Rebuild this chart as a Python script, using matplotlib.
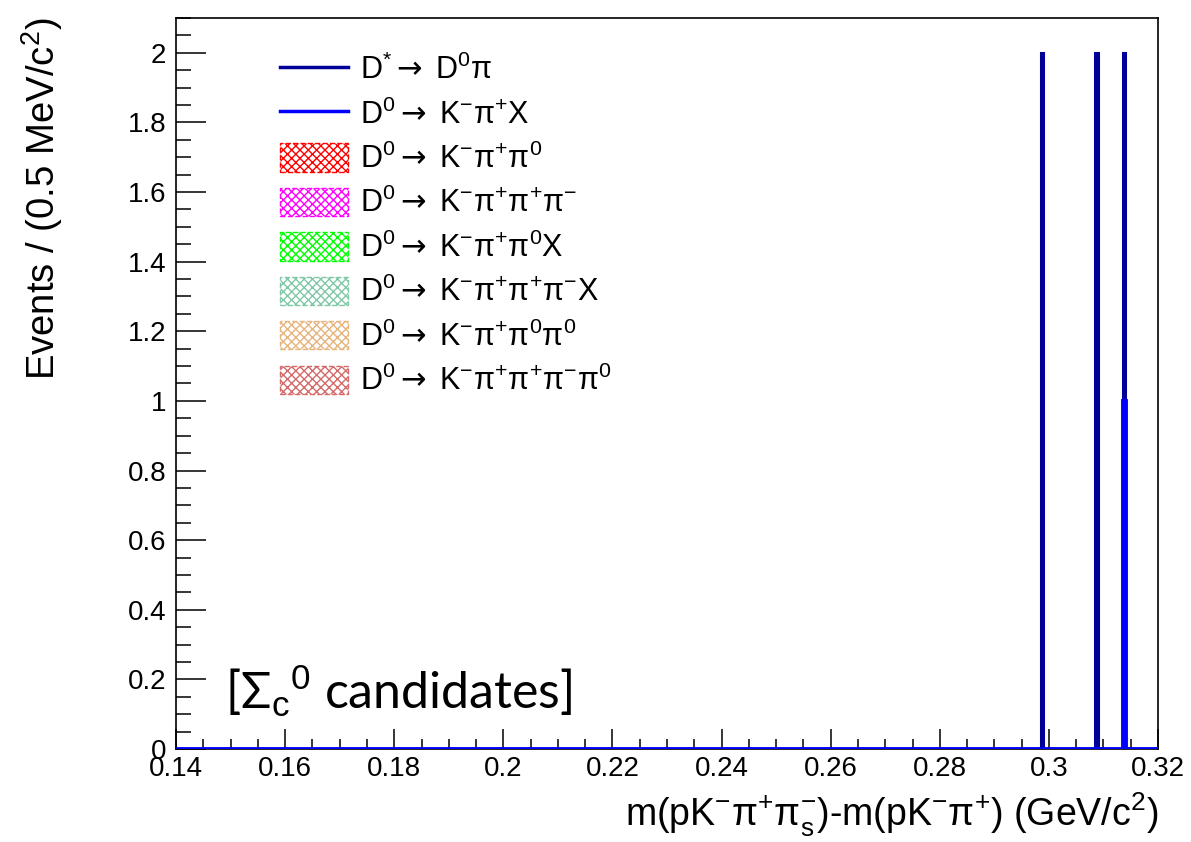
import numpy as np
import matplotlib
matplotlib.use("Agg")
import matplotlib.pyplot as plt
from matplotlib.lines import Line2D
from matplotlib.patches import Patch

plt.rcParams['font.family'] = ['Liberation Sans', 'DejaVu Sans']
plt.rcParams['mathtext.fontset'] = 'custom'
plt.rcParams['mathtext.rm'] = 'Liberation Sans'
plt.rcParams['mathtext.it'] = 'Liberation Sans:italic'
plt.rcParams['mathtext.sf'] = 'DejaVu Sans'
plt.rcParams['hatch.linewidth'] = 1.0

# binning: 0.5 MeV bins from 0.14 to 0.32 GeV
x_lo, x_hi, bin_w = 0.14, 0.32, 0.0005
edges = np.linspace(x_lo, x_hi, int(round((x_hi - x_lo) / bin_w)) + 1)

# filled bins (bin centres) and their entries
dstar_x = [0.29875, 0.30875, 0.31375]
dstar_n = [2, 2, 2]
kpix_x = [0.31375]
kpix_n = [1]

ARR = r"$\mathsf{\rightarrow}$"
# stacked components (all empty in this selection)
comp_labels = [r"D$^{0}$" + ARR + r" K$^{-}$π$^{+}$π$^{0}$",
               r"D$^{0}$" + ARR + r" K$^{-}$π$^{+}$π$^{+}$π$^{-}$",
               r"D$^{0}$" + ARR + r" K$^{-}$π$^{+}$π$^{0}$X",
               r"D$^{0}$" + ARR + r" K$^{-}$π$^{+}$π$^{+}$π$^{-}$X",
               r"D$^{0}$" + ARR + r" K$^{-}$π$^{+}$π$^{0}$π$^{0}$",
               r"D$^{0}$" + ARR + r" K$^{-}$π$^{+}$π$^{+}$π$^{-}$π$^{0}$"]
comp_colors = ['#ff0000', '#ff00ff', '#00ff00', '#80c8a8', '#e6b47c', '#d46a6a']

fig = plt.figure(figsize=(11.91, 8.42), dpi=100)
ax = fig.add_axes([0.1478, 0.1105, 0.8245, 0.8681])

ax.hist(dstar_x, bins=edges, weights=dstar_n, histtype='step',
        color='#000099', lw=2.2, zorder=3)
ax.hist(kpix_x, bins=edges, weights=kpix_n, histtype='step',
        color='#0000ff', lw=3.5, zorder=4)

ax.set_xlim(x_lo, x_hi)
ax.set_ylim(0, 2.1)
ax.set_xticks(np.arange(0.14, 0.3201, 0.02))
ax.set_xticklabels(['0.14', '0.16', '0.18', '0.2', '0.22', '0.24', '0.26', '0.28', '0.3', '0.32'])
ax.set_xticks(np.arange(0.14, 0.3201, 0.005), minor=True)
ax.set_yticks(np.arange(0, 2.01, 0.2))
ax.set_yticklabels(['0', '0.2', '0.4', '0.6', '0.8', '1', '1.2', '1.4', '1.6', '1.8', '2'])
ax.set_yticks(np.arange(0, 2.101, 0.05), minor=True)

ax.tick_params(axis='x', which='major', direction='in', length=14.4, width=1.1,
               labelsize=20, pad=5)
ax.tick_params(axis='x', which='minor', direction='in', length=7.2, width=1.1)
ax.tick_params(axis='y', which='major', direction='in', length=21.6, width=1.1,
               labelsize=20, pad=7)
ax.tick_params(axis='y', which='minor', direction='in', length=10.8, width=1.1)
for s in ax.spines.values():
    s.set_linewidth(1.2)

ax.set_xlabel(r"m(pK$^{-}$π$^{+}$π$_{\mathrm{s}}^{-}$)-m(pK$^{-}$π$^{+}$) (GeV/c$^{2}$)",
              fontsize=27, loc='right')
ax.xaxis.set_label_coords(1.0, -0.058)
ax.xaxis.label.set_va('top')
ax.set_ylabel(r"Events / (0.5 MeV/c$^{2}$)", fontsize=27.5, loc='top')
ax.yaxis.set_label_coords(-0.113, 1.0)

handles = [Line2D([], [], color='#000099', lw=2.5),
           Line2D([], [], color='#0000ff', lw=2.5)]
labels = [r"D$^{*}$" + ARR + r" D$^{0}$π", r"D$^{0}$" + ARR + r" K$^{-}$π$^{+}$X"]
for c, lab in zip(comp_colors, comp_labels):
    handles.append(Patch(facecolor='white', edgecolor=c, hatch='xxxx',
                         linestyle='--', lw=1.0))
    labels.append(lab)

ax.legend(handles, labels, loc='upper left', bbox_to_anchor=(0.106, 0.950),
          frameon=False, fontsize=22, handlelength=2.23, handleheight=1.05,
          handletextpad=0.4, labelspacing=0.42, borderpad=0, borderaxespad=0)

ax.text(0.05, 0.055, r"[Σ$_{\mathrm{c}}$$^{0}$ candidates]", transform=ax.transAxes,
        fontsize=36, family=['Lato', 'DejaVu Sans'], ha='left', va='baseline')

fig.savefig('out.png', dpi=100)
